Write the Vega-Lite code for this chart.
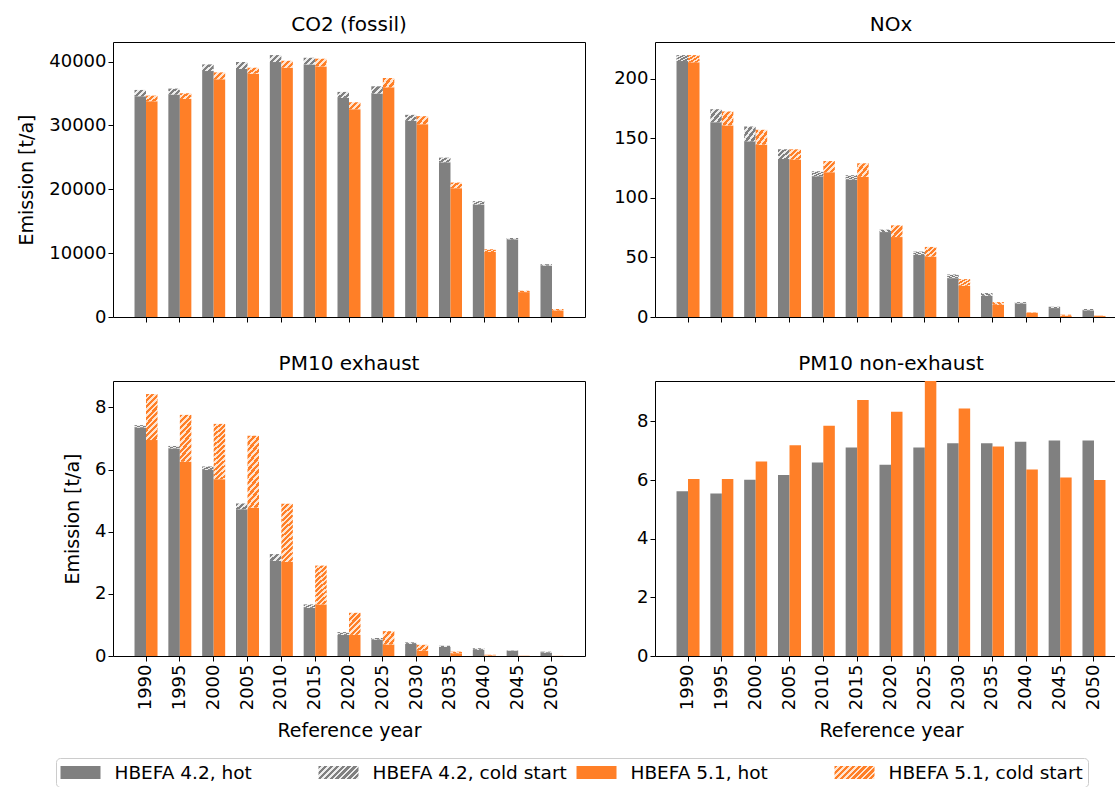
{
"$schema": "https://vega.github.io/schema/vega-lite/v6.json",
"padding": {"left": 16, "top": 14, "right": 0, "bottom": 0},
"config": {
  "font": "DejaVu Sans",
  "view": {"stroke": "#000000", "strokeWidth": 1},
  "axis": {"labelFontSize": 18, "titleFontSize": 19, "titleFontWeight": "normal", "labelColor": "#000000", "titleColor": "#000000", "tickColor": "#000000", "tickSize": 5, "grid": false, "domain": false, "labelFont": "DejaVu Sans", "titleFont": "DejaVu Sans"},
  "title": {"fontSize": 20, "fontWeight": "normal", "font": "DejaVu Sans", "offset": 7, "color": "#000000", "frame": "group"}
},
"datasets": {"d": [
{"p":"CO2","year":1990,"series":"HBEFA 4.2, hot","hot":34580,"total":35570},
{"p":"CO2","year":1995,"series":"HBEFA 4.2, hot","hot":34840,"total":35780},
{"p":"CO2","year":2000,"series":"HBEFA 4.2, hot","hot":38530,"total":39570},
{"p":"CO2","year":2005,"series":"HBEFA 4.2, hot","hot":38840,"total":39940},
{"p":"CO2","year":2010,"series":"HBEFA 4.2, hot","hot":39940,"total":41030},
{"p":"CO2","year":2015,"series":"HBEFA 4.2, hot","hot":39570,"total":40610},
{"p":"CO2","year":2020,"series":"HBEFA 4.2, hot","hot":34320,"total":35260},
{"p":"CO2","year":2025,"series":"HBEFA 4.2, hot","hot":35000,"total":36140},
{"p":"CO2","year":2030,"series":"HBEFA 4.2, hot","hot":30730,"total":31670},
{"p":"CO2","year":2035,"series":"HBEFA 4.2, hot","hot":24230,"total":24960},
{"p":"CO2","year":2040,"series":"HBEFA 4.2, hot","hot":17630,"total":18150},
{"p":"CO2","year":2045,"series":"HBEFA 4.2, hot","hot":12170,"total":12380},
{"p":"CO2","year":2050,"series":"HBEFA 4.2, hot","hot":8060,"total":8270},
{"p":"CO2","year":1990,"series":"HBEFA 5.1, hot","hot":33800,"total":34680},
{"p":"CO2","year":1995,"series":"HBEFA 5.1, hot","hot":34160,"total":35050},
{"p":"CO2","year":2000,"series":"HBEFA 5.1, hot","hot":37230,"total":38320},
{"p":"CO2","year":2005,"series":"HBEFA 5.1, hot","hot":38120,"total":39050},
{"p":"CO2","year":2010,"series":"HBEFA 5.1, hot","hot":39050,"total":40140},
{"p":"CO2","year":2015,"series":"HBEFA 5.1, hot","hot":39260,"total":40460},
{"p":"CO2","year":2020,"series":"HBEFA 5.1, hot","hot":32550,"total":33640},
{"p":"CO2","year":2025,"series":"HBEFA 5.1, hot","hot":35980,"total":37440},
{"p":"CO2","year":2030,"series":"HBEFA 5.1, hot","hot":30210,"total":31460},
{"p":"CO2","year":2035,"series":"HBEFA 5.1, hot","hot":20180,"total":21060},
{"p":"CO2","year":2040,"series":"HBEFA 5.1, hot","hot":10190,"total":10610},
{"p":"CO2","year":2045,"series":"HBEFA 5.1, hot","hot":3900,"total":4110},
{"p":"CO2","year":2050,"series":"HBEFA 5.1, hot","hot":1040,"total":1250},
{"p":"NOx","year":1990,"series":"HBEFA 4.2, hot","hot":214.8,"total":219.8},
{"p":"NOx","year":1995,"series":"HBEFA 4.2, hot","hot":163.5,"total":174.4},
{"p":"NOx","year":2000,"series":"HBEFA 4.2, hot","hot":147.4,"total":159.9},
{"p":"NOx","year":2005,"series":"HBEFA 4.2, hot","hot":132.6,"total":140.7},
{"p":"NOx","year":2010,"series":"HBEFA 4.2, hot","hot":118.1,"total":122.3},
{"p":"NOx","year":2015,"series":"HBEFA 4.2, hot","hot":115.3,"total":119.0},
{"p":"NOx","year":2020,"series":"HBEFA 4.2, hot","hot":71.3,"total":73.3},
{"p":"NOx","year":2025,"series":"HBEFA 4.2, hot","hot":52.1,"total":54.9},
{"p":"NOx","year":2030,"series":"HBEFA 4.2, hot","hot":32.6,"total":35.7},
{"p":"NOx","year":2035,"series":"HBEFA 4.2, hot","hot":17.8,"total":20.1},
{"p":"NOx","year":2040,"series":"HBEFA 4.2, hot","hot":11.4,"total":12.5},
{"p":"NOx","year":2045,"series":"HBEFA 4.2, hot","hot":7.5,"total":8.6},
{"p":"NOx","year":2050,"series":"HBEFA 4.2, hot","hot":5.6,"total":6.7},
{"p":"NOx","year":1990,"series":"HBEFA 5.1, hot","hot":213.7,"total":219.8},
{"p":"NOx","year":1995,"series":"HBEFA 5.1, hot","hot":160.8,"total":172.5},
{"p":"NOx","year":2000,"series":"HBEFA 5.1, hot","hot":144.6,"total":157.1},
{"p":"NOx","year":2005,"series":"HBEFA 5.1, hot","hot":132.1,"total":140.7},
{"p":"NOx","year":2010,"series":"HBEFA 5.1, hot","hot":121.5,"total":130.9},
{"p":"NOx","year":2015,"series":"HBEFA 5.1, hot","hot":117.6,"total":129.0},
{"p":"NOx","year":2020,"series":"HBEFA 5.1, hot","hot":67.1,"total":76.9},
{"p":"NOx","year":2025,"series":"HBEFA 5.1, hot","hot":50.7,"total":58.8},
{"p":"NOx","year":2030,"series":"HBEFA 5.1, hot","hot":26.2,"total":31.8},
{"p":"NOx","year":2035,"series":"HBEFA 5.1, hot","hot":10.3,"total":12.5},
{"p":"NOx","year":2040,"series":"HBEFA 5.1, hot","hot":3.6,"total":3.9},
{"p":"NOx","year":2045,"series":"HBEFA 5.1, hot","hot":1.1,"total":1.95},
{"p":"NOx","year":2050,"series":"HBEFA 5.1, hot","hot":0.8,"total":1.1},
{"p":"PMex","year":1990,"series":"HBEFA 4.2, hot","hot":7.35,"total":7.43},
{"p":"PMex","year":1995,"series":"HBEFA 4.2, hot","hot":6.68,"total":6.76},
{"p":"PMex","year":2000,"series":"HBEFA 4.2, hot","hot":5.99,"total":6.10},
{"p":"PMex","year":2005,"series":"HBEFA 4.2, hot","hot":4.72,"total":4.91},
{"p":"PMex","year":2010,"series":"HBEFA 4.2, hot","hot":3.06,"total":3.28},
{"p":"PMex","year":2015,"series":"HBEFA 4.2, hot","hot":1.55,"total":1.66},
{"p":"PMex","year":2020,"series":"HBEFA 4.2, hot","hot":0.68,"total":0.77},
{"p":"PMex","year":2025,"series":"HBEFA 4.2, hot","hot":0.53,"total":0.58},
{"p":"PMex","year":2030,"series":"HBEFA 4.2, hot","hot":0.39,"total":0.44},
{"p":"PMex","year":2035,"series":"HBEFA 4.2, hot","hot":0.29,"total":0.33},
{"p":"PMex","year":2040,"series":"HBEFA 4.2, hot","hot":0.20,"total":0.25},
{"p":"PMex","year":2045,"series":"HBEFA 4.2, hot","hot":0.17,"total":0.18},
{"p":"PMex","year":2050,"series":"HBEFA 4.2, hot","hot":0.11,"total":0.14},
{"p":"PMex","year":1990,"series":"HBEFA 5.1, hot","hot":6.95,"total":8.43},
{"p":"PMex","year":1995,"series":"HBEFA 5.1, hot","hot":6.25,"total":7.76},
{"p":"PMex","year":2000,"series":"HBEFA 5.1, hot","hot":5.69,"total":7.47},
{"p":"PMex","year":2005,"series":"HBEFA 5.1, hot","hot":4.77,"total":7.09},
{"p":"PMex","year":2010,"series":"HBEFA 5.1, hot","hot":3.03,"total":4.90},
{"p":"PMex","year":2015,"series":"HBEFA 5.1, hot","hot":1.66,"total":2.91},
{"p":"PMex","year":2020,"series":"HBEFA 5.1, hot","hot":0.68,"total":1.39},
{"p":"PMex","year":2025,"series":"HBEFA 5.1, hot","hot":0.37,"total":0.80},
{"p":"PMex","year":2030,"series":"HBEFA 5.1, hot","hot":0.17,"total":0.36},
{"p":"PMex","year":2035,"series":"HBEFA 5.1, hot","hot":0.09,"total":0.14},
{"p":"PMex","year":2040,"series":"HBEFA 5.1, hot","hot":0.02,"total":0.04},
{"p":"PMex","year":2045,"series":"HBEFA 5.1, hot","hot":0.005,"total":0.008},
{"p":"PMex","year":2050,"series":"HBEFA 5.1, hot","hot":0.003,"total":0.005},
{"p":"PMne","year":1990,"series":"HBEFA 4.2, hot","hot":5.62,"total":5.62},
{"p":"PMne","year":1995,"series":"HBEFA 4.2, hot","hot":5.54,"total":5.54},
{"p":"PMne","year":2000,"series":"HBEFA 4.2, hot","hot":6.01,"total":6.01},
{"p":"PMne","year":2005,"series":"HBEFA 4.2, hot","hot":6.17,"total":6.17},
{"p":"PMne","year":2010,"series":"HBEFA 4.2, hot","hot":6.60,"total":6.60},
{"p":"PMne","year":2015,"series":"HBEFA 4.2, hot","hot":7.11,"total":7.11},
{"p":"PMne","year":2020,"series":"HBEFA 4.2, hot","hot":6.52,"total":6.52},
{"p":"PMne","year":2025,"series":"HBEFA 4.2, hot","hot":7.11,"total":7.11},
{"p":"PMne","year":2030,"series":"HBEFA 4.2, hot","hot":7.26,"total":7.26},
{"p":"PMne","year":2035,"series":"HBEFA 4.2, hot","hot":7.26,"total":7.26},
{"p":"PMne","year":2040,"series":"HBEFA 4.2, hot","hot":7.31,"total":7.31},
{"p":"PMne","year":2045,"series":"HBEFA 4.2, hot","hot":7.35,"total":7.35},
{"p":"PMne","year":2050,"series":"HBEFA 4.2, hot","hot":7.35,"total":7.35},
{"p":"PMne","year":1990,"series":"HBEFA 5.1, hot","hot":6.04,"total":6.04},
{"p":"PMne","year":1995,"series":"HBEFA 5.1, hot","hot":6.04,"total":6.04},
{"p":"PMne","year":2000,"series":"HBEFA 5.1, hot","hot":6.63,"total":6.63},
{"p":"PMne","year":2005,"series":"HBEFA 5.1, hot","hot":7.19,"total":7.19},
{"p":"PMne","year":2010,"series":"HBEFA 5.1, hot","hot":7.85,"total":7.85},
{"p":"PMne","year":2015,"series":"HBEFA 5.1, hot","hot":8.73,"total":8.73},
{"p":"PMne","year":2020,"series":"HBEFA 5.1, hot","hot":8.33,"total":8.33},
{"p":"PMne","year":2025,"series":"HBEFA 5.1, hot","hot":9.6,"total":9.6},
{"p":"PMne","year":2030,"series":"HBEFA 5.1, hot","hot":8.44,"total":8.44},
{"p":"PMne","year":2035,"series":"HBEFA 5.1, hot","hot":7.15,"total":7.15},
{"p":"PMne","year":2040,"series":"HBEFA 5.1, hot","hot":6.36,"total":6.36},
{"p":"PMne","year":2045,"series":"HBEFA 5.1, hot","hot":6.09,"total":6.09},
{"p":"PMne","year":2050,"series":"HBEFA 5.1, hot","hot":6.00,"total":6.00}
]},
"columns": 1,
"spacing": 15,
"concat": [
{
"spacing": 0,
"hconcat": [
{
  "width": 1, "height": 1,
  "view": {"stroke": null},
  "data": {"values": [{"label": ""}]},
  "mark": {"type": "text"},
  "encoding": {"text": {"field": "label"}}
},
{
"data": {"name": "d"},
"columns": 2,
"spacing": {"row": 26, "column": 27},
"concat": [
{
  "width": 472, "height": 275,
  "title": {"text": "CO2 (fossil)"},
  "transform": [{"filter": "datum.p == 'CO2'"}],
  "encoding": {
    "x": {"field": "year", "type": "ordinal", "scale": {"paddingInner": 0.32, "paddingOuter": 0.636}, "axis": {"labels": false, "title": null}},
    "xOffset": {"field": "series", "type": "nominal", "scale": {"paddingInner": 0, "paddingOuter": 0}}
  },
  "layer": [
    {"mark": {"type": "bar"}, "encoding": {
      "y": {"field": "hot", "type": "quantitative", "stack": null, "scale": {"domain": [0, 43080], "nice": false}, "axis": {"values": [0, 10000, 20000, 30000, 40000], "format": "d", "title": "Emission [t/a]", "titlePadding": 12}},
      "fill": {"field": "series", "type": "nominal", "scale": {"domain": ["HBEFA 4.2, hot", "HBEFA 5.1, hot"], "range": ["#808080", "#ff7f27"]}, "legend": null}
    }},
    {"mark": {"type": "bar"}, "encoding": {
      "y": {"field": "total", "type": "quantitative", "axis": {"values": [0, 10000, 20000, 30000, 40000], "format": "d", "title": "Emission [t/a]", "titlePadding": 12}},
      "y2": {"field": "hot"},
      "fill": {"condition": {"test": "datum.series == 'HBEFA 4.2, hot'", "value": {"gradient": "linear", "x1": 0, "y1": 0, "x2": 1.17, "y2": 0.715, "stops": [
        {"offset": 0, "color": "#808080"}, {"offset": 0.18333, "color": "#808080"}, {"offset": 0.18333, "color": "#ececec"}, {"offset": 0.33333, "color": "#ececec"},
        {"offset": 0.33333, "color": "#808080"}, {"offset": 0.51667, "color": "#808080"}, {"offset": 0.51667, "color": "#ececec"}, {"offset": 0.66667, "color": "#ececec"},
        {"offset": 0.66667, "color": "#808080"}, {"offset": 0.85, "color": "#808080"}, {"offset": 0.85, "color": "#ececec"}, {"offset": 1, "color": "#ececec"}]}},
        "value": {"gradient": "linear", "x1": 0, "y1": 0, "x2": 1.17, "y2": 0.715, "stops": [
        {"offset": 0, "color": "#ff7f27"}, {"offset": 0.18333, "color": "#ff7f27"}, {"offset": 0.18333, "color": "#ffe4d0"}, {"offset": 0.33333, "color": "#ffe4d0"},
        {"offset": 0.33333, "color": "#ff7f27"}, {"offset": 0.51667, "color": "#ff7f27"}, {"offset": 0.51667, "color": "#ffe4d0"}, {"offset": 0.66667, "color": "#ffe4d0"},
        {"offset": 0.66667, "color": "#ff7f27"}, {"offset": 0.85, "color": "#ff7f27"}, {"offset": 0.85, "color": "#ffe4d0"}, {"offset": 1, "color": "#ffe4d0"}]}}
    }}
  ]
},
{
  "width": 472, "height": 275,
  "title": {"text": "NOx"},
  "transform": [{"filter": "datum.p == 'NOx'"}],
  "encoding": {
    "x": {"field": "year", "type": "ordinal", "scale": {"paddingInner": 0.32, "paddingOuter": 0.636}, "axis": {"labels": false, "title": null}},
    "xOffset": {"field": "series", "type": "nominal", "scale": {"paddingInner": 0, "paddingOuter": 0}}
  },
  "layer": [
    {"mark": {"type": "bar"}, "encoding": {
      "y": {"field": "hot", "type": "quantitative", "stack": null, "scale": {"domain": [0, 230.8], "nice": false}, "axis": {"values": [0, 50, 100, 150, 200], "title": null}},
      "fill": {"field": "series", "type": "nominal", "scale": {"domain": ["HBEFA 4.2, hot", "HBEFA 5.1, hot"], "range": ["#808080", "#ff7f27"]}, "legend": null}
    }},
    {"mark": {"type": "bar"}, "encoding": {
      "y": {"field": "total", "type": "quantitative", "axis": {"values": [0, 50, 100, 150, 200], "title": null}},
      "y2": {"field": "hot"},
      "fill": {"condition": {"test": "datum.series == 'HBEFA 4.2, hot'", "value": {"gradient": "linear", "x1": 0, "y1": 0, "x2": 1, "y2": 1, "stops": [
        {"offset": 0, "color": "#808080"}, {"offset": 0.1375, "color": "#808080"}, {"offset": 0.1375, "color": "#ececec"}, {"offset": 0.25, "color": "#ececec"},
        {"offset": 0.25, "color": "#808080"}, {"offset": 0.3875, "color": "#808080"}, {"offset": 0.3875, "color": "#ececec"}, {"offset": 0.5, "color": "#ececec"},
        {"offset": 0.5, "color": "#808080"}, {"offset": 0.6375, "color": "#808080"}, {"offset": 0.6375, "color": "#ececec"}, {"offset": 0.75, "color": "#ececec"},
        {"offset": 0.75, "color": "#808080"}, {"offset": 0.8875, "color": "#808080"}, {"offset": 0.8875, "color": "#ececec"}, {"offset": 1, "color": "#ececec"}]}},
        "value": {"gradient": "linear", "x1": 0, "y1": 0, "x2": 1, "y2": 1, "stops": [
        {"offset": 0, "color": "#ff7f27"}, {"offset": 0.1375, "color": "#ff7f27"}, {"offset": 0.1375, "color": "#ffe4d0"}, {"offset": 0.25, "color": "#ffe4d0"},
        {"offset": 0.25, "color": "#ff7f27"}, {"offset": 0.3875, "color": "#ff7f27"}, {"offset": 0.3875, "color": "#ffe4d0"}, {"offset": 0.5, "color": "#ffe4d0"},
        {"offset": 0.5, "color": "#ff7f27"}, {"offset": 0.6375, "color": "#ff7f27"}, {"offset": 0.6375, "color": "#ffe4d0"}, {"offset": 0.75, "color": "#ffe4d0"},
        {"offset": 0.75, "color": "#ff7f27"}, {"offset": 0.8875, "color": "#ff7f27"}, {"offset": 0.8875, "color": "#ffe4d0"}, {"offset": 1, "color": "#ffe4d0"}]}}
    }}
  ]
},
{
  "width": 472, "height": 275,
  "title": {"text": "PM10 exhaust"},
  "transform": [{"filter": "datum.p == 'PMex'"}],
  "encoding": {
    "x": {"field": "year", "type": "ordinal", "scale": {"paddingInner": 0.32, "paddingOuter": 0.636}, "axis": {"labelAngle": -90, "title": "Reference year", "labelPadding": 3, "titlePadding": 12}},
    "xOffset": {"field": "series", "type": "nominal", "scale": {"paddingInner": 0, "paddingOuter": 0}}
  },
  "layer": [
    {"mark": {"type": "bar"}, "encoding": {
      "y": {"field": "hot", "type": "quantitative", "stack": null, "scale": {"domain": [0, 8.85], "nice": false}, "axis": {"values": [0, 2, 4, 6, 8], "title": "Emission [t/a]", "titlePadding": 12}},
      "fill": {"field": "series", "type": "nominal", "scale": {"domain": ["HBEFA 4.2, hot", "HBEFA 5.1, hot"], "range": ["#808080", "#ff7f27"]}, "legend": null}
    }},
    {"mark": {"type": "bar"}, "encoding": {
      "y": {"field": "total", "type": "quantitative", "axis": {"values": [0, 2, 4, 6, 8], "title": "Emission [t/a]", "titlePadding": 12}},
      "y2": {"field": "hot"},
      "fill": {"condition": [
        {"test": "datum.series == 'HBEFA 4.2, hot'", "value": {"gradient": "linear", "x1": 0, "y1": 0, "x2": 1.17, "y2": 0.715, "stops": [
          {"offset": 0, "color": "#808080"}, {"offset": 0.18333, "color": "#808080"}, {"offset": 0.18333, "color": "#ececec"}, {"offset": 0.33333, "color": "#ececec"},
          {"offset": 0.33333, "color": "#808080"}, {"offset": 0.51667, "color": "#808080"}, {"offset": 0.51667, "color": "#ececec"}, {"offset": 0.66667, "color": "#ececec"},
          {"offset": 0.66667, "color": "#808080"}, {"offset": 0.85, "color": "#808080"}, {"offset": 0.85, "color": "#ececec"}, {"offset": 1, "color": "#ececec"}]}},
        {"test": "datum.total - datum.hot >= 1.6", "value": {"gradient": "linear", "x1": 0, "y1": 0, "x2": 0.212, "y2": 1.146, "stops": [
          {"offset": 0, "color": "#ff7f27"}, {"offset": 0.042308, "color": "#ff7f27"}, {"offset": 0.042308, "color": "#ffe4d0"}, {"offset": 0.076923, "color": "#ffe4d0"},
          {"offset": 0.076923, "color": "#ff7f27"}, {"offset": 0.119231, "color": "#ff7f27"}, {"offset": 0.119231, "color": "#ffe4d0"}, {"offset": 0.153846, "color": "#ffe4d0"},
          {"offset": 0.153846, "color": "#ff7f27"}, {"offset": 0.196154, "color": "#ff7f27"}, {"offset": 0.196154, "color": "#ffe4d0"}, {"offset": 0.230769, "color": "#ffe4d0"},
          {"offset": 0.230769, "color": "#ff7f27"}, {"offset": 0.273077, "color": "#ff7f27"}, {"offset": 0.273077, "color": "#ffe4d0"}, {"offset": 0.307692, "color": "#ffe4d0"},
          {"offset": 0.307692, "color": "#ff7f27"}, {"offset": 0.35, "color": "#ff7f27"}, {"offset": 0.35, "color": "#ffe4d0"}, {"offset": 0.384615, "color": "#ffe4d0"},
          {"offset": 0.384615, "color": "#ff7f27"}, {"offset": 0.426923, "color": "#ff7f27"}, {"offset": 0.426923, "color": "#ffe4d0"}, {"offset": 0.461538, "color": "#ffe4d0"},
          {"offset": 0.461538, "color": "#ff7f27"}, {"offset": 0.503846, "color": "#ff7f27"}, {"offset": 0.503846, "color": "#ffe4d0"}, {"offset": 0.538462, "color": "#ffe4d0"},
          {"offset": 0.538462, "color": "#ff7f27"}, {"offset": 0.580769, "color": "#ff7f27"}, {"offset": 0.580769, "color": "#ffe4d0"}, {"offset": 0.615385, "color": "#ffe4d0"},
          {"offset": 0.615385, "color": "#ff7f27"}, {"offset": 0.657692, "color": "#ff7f27"}, {"offset": 0.657692, "color": "#ffe4d0"}, {"offset": 0.692308, "color": "#ffe4d0"},
          {"offset": 0.692308, "color": "#ff7f27"}, {"offset": 0.734615, "color": "#ff7f27"}, {"offset": 0.734615, "color": "#ffe4d0"}, {"offset": 0.769231, "color": "#ffe4d0"},
          {"offset": 0.769231, "color": "#ff7f27"}, {"offset": 0.811538, "color": "#ff7f27"}, {"offset": 0.811538, "color": "#ffe4d0"}, {"offset": 0.846154, "color": "#ffe4d0"},
          {"offset": 0.846154, "color": "#ff7f27"}, {"offset": 0.888462, "color": "#ff7f27"}, {"offset": 0.888462, "color": "#ffe4d0"}, {"offset": 0.923077, "color": "#ffe4d0"},
          {"offset": 0.923077, "color": "#ff7f27"}, {"offset": 0.965385, "color": "#ff7f27"}, {"offset": 0.965385, "color": "#ffe4d0"}, {"offset": 1, "color": "#ffe4d0"}]}},
        {"test": "datum.total - datum.hot >= 1.0", "value": {"gradient": "linear", "x1": 0, "y1": 0, "x2": 0.308, "y2": 1.181, "stops": [
          {"offset": 0, "color": "#ff7f27"}, {"offset": 0.055, "color": "#ff7f27"}, {"offset": 0.055, "color": "#ffe4d0"}, {"offset": 0.1, "color": "#ffe4d0"},
          {"offset": 0.1, "color": "#ff7f27"}, {"offset": 0.155, "color": "#ff7f27"}, {"offset": 0.155, "color": "#ffe4d0"}, {"offset": 0.2, "color": "#ffe4d0"},
          {"offset": 0.2, "color": "#ff7f27"}, {"offset": 0.255, "color": "#ff7f27"}, {"offset": 0.255, "color": "#ffe4d0"}, {"offset": 0.3, "color": "#ffe4d0"},
          {"offset": 0.3, "color": "#ff7f27"}, {"offset": 0.355, "color": "#ff7f27"}, {"offset": 0.355, "color": "#ffe4d0"}, {"offset": 0.4, "color": "#ffe4d0"},
          {"offset": 0.4, "color": "#ff7f27"}, {"offset": 0.455, "color": "#ff7f27"}, {"offset": 0.455, "color": "#ffe4d0"}, {"offset": 0.5, "color": "#ffe4d0"},
          {"offset": 0.5, "color": "#ff7f27"}, {"offset": 0.555, "color": "#ff7f27"}, {"offset": 0.555, "color": "#ffe4d0"}, {"offset": 0.6, "color": "#ffe4d0"},
          {"offset": 0.6, "color": "#ff7f27"}, {"offset": 0.655, "color": "#ff7f27"}, {"offset": 0.655, "color": "#ffe4d0"}, {"offset": 0.7, "color": "#ffe4d0"},
          {"offset": 0.7, "color": "#ff7f27"}, {"offset": 0.755, "color": "#ff7f27"}, {"offset": 0.755, "color": "#ffe4d0"}, {"offset": 0.8, "color": "#ffe4d0"},
          {"offset": 0.8, "color": "#ff7f27"}, {"offset": 0.855, "color": "#ff7f27"}, {"offset": 0.855, "color": "#ffe4d0"}, {"offset": 0.9, "color": "#ffe4d0"},
          {"offset": 0.9, "color": "#ff7f27"}, {"offset": 0.955, "color": "#ff7f27"}, {"offset": 0.955, "color": "#ffe4d0"}, {"offset": 1, "color": "#ffe4d0"}]}},
        {"test": "datum.total - datum.hot >= 0.5", "value": {"gradient": "linear", "x1": 0, "y1": 0, "x2": 0.626, "y2": 1.196, "stops": [
          {"offset": 0, "color": "#ff7f27"}, {"offset": 0.091667, "color": "#ff7f27"}, {"offset": 0.091667, "color": "#ffe4d0"}, {"offset": 0.166667, "color": "#ffe4d0"},
          {"offset": 0.166667, "color": "#ff7f27"}, {"offset": 0.258333, "color": "#ff7f27"}, {"offset": 0.258333, "color": "#ffe4d0"}, {"offset": 0.333333, "color": "#ffe4d0"},
          {"offset": 0.333333, "color": "#ff7f27"}, {"offset": 0.425, "color": "#ff7f27"}, {"offset": 0.425, "color": "#ffe4d0"}, {"offset": 0.5, "color": "#ffe4d0"},
          {"offset": 0.5, "color": "#ff7f27"}, {"offset": 0.591667, "color": "#ff7f27"}, {"offset": 0.591667, "color": "#ffe4d0"}, {"offset": 0.666667, "color": "#ffe4d0"},
          {"offset": 0.666667, "color": "#ff7f27"}, {"offset": 0.758333, "color": "#ff7f27"}, {"offset": 0.758333, "color": "#ffe4d0"}, {"offset": 0.833333, "color": "#ffe4d0"},
          {"offset": 0.833333, "color": "#ff7f27"}, {"offset": 0.925, "color": "#ff7f27"}, {"offset": 0.925, "color": "#ffe4d0"}, {"offset": 1, "color": "#ffe4d0"}]}},
        {"test": "datum.total - datum.hot >= 0.3", "value": {"gradient": "linear", "x1": 0, "y1": 0, "x2": 1, "y2": 1, "stops": [
          {"offset": 0, "color": "#ff7f27"}, {"offset": 0.1375, "color": "#ff7f27"}, {"offset": 0.1375, "color": "#ffe4d0"}, {"offset": 0.25, "color": "#ffe4d0"},
          {"offset": 0.25, "color": "#ff7f27"}, {"offset": 0.3875, "color": "#ff7f27"}, {"offset": 0.3875, "color": "#ffe4d0"}, {"offset": 0.5, "color": "#ffe4d0"},
          {"offset": 0.5, "color": "#ff7f27"}, {"offset": 0.6375, "color": "#ff7f27"}, {"offset": 0.6375, "color": "#ffe4d0"}, {"offset": 0.75, "color": "#ffe4d0"},
          {"offset": 0.75, "color": "#ff7f27"}, {"offset": 0.8875, "color": "#ff7f27"}, {"offset": 0.8875, "color": "#ffe4d0"}, {"offset": 1, "color": "#ffe4d0"}]}}
        ],
        "value": {"gradient": "linear", "x1": 0, "y1": 0, "x2": 1.17, "y2": 0.715, "stops": [
        {"offset": 0, "color": "#ff7f27"}, {"offset": 0.18333, "color": "#ff7f27"}, {"offset": 0.18333, "color": "#ffe4d0"}, {"offset": 0.33333, "color": "#ffe4d0"},
        {"offset": 0.33333, "color": "#ff7f27"}, {"offset": 0.51667, "color": "#ff7f27"}, {"offset": 0.51667, "color": "#ffe4d0"}, {"offset": 0.66667, "color": "#ffe4d0"},
        {"offset": 0.66667, "color": "#ff7f27"}, {"offset": 0.85, "color": "#ff7f27"}, {"offset": 0.85, "color": "#ffe4d0"}, {"offset": 1, "color": "#ffe4d0"}]}}
    }}
  ]
},
{
  "width": 472, "height": 275,
  "title": {"text": "PM10 non-exhaust"},
  "transform": [{"filter": "datum.p == 'PMne'"}],
  "mark": {"type": "bar", "clip": true},
  "encoding": {
    "x": {"field": "year", "type": "ordinal", "scale": {"paddingInner": 0.32, "paddingOuter": 0.636}, "axis": {"labelAngle": -90, "title": "Reference year", "labelPadding": 3, "titlePadding": 12}},
    "xOffset": {"field": "series", "type": "nominal", "scale": {"paddingInner": 0, "paddingOuter": 0}},
    "y": {"field": "hot", "type": "quantitative", "stack": null, "scale": {"domain": [0, 9.38], "nice": false}, "axis": {"values": [0, 2, 4, 6, 8], "title": null}},
    "fill": {"field": "series", "type": "nominal", "scale": {"domain": ["HBEFA 4.2, hot", "HBEFA 5.1, hot"], "range": ["#808080", "#ff7f27"]}, "legend": null}
  }
}
]
}
]
},
{
"spacing": 14,
"hconcat": [
{
  "width": 25, "height": 29,
  "view": {"stroke": null},
  "data": {"values": [{"label": ""}]},
  "mark": {"type": "text"},
  "encoding": {"text": {"field": "label"}}
},
{
  "width": 1032, "height": 29,
  "view": {"stroke": "#cccccc", "strokeWidth": 1, "cornerRadius": 4},
  "data": {"values": [{"label": "HBEFA 4.2, hot"}, {"label": "HBEFA 4.2, cold start"}, {"label": "HBEFA 5.1, hot"}, {"label": "HBEFA 5.1, cold start"}]},
  "layer": [
    {"mark": {"type": "point", "shape": "M-1,-0.325H1V0.325H-1Z", "size": 1600, "filled": true, "opacity": 1, "strokeWidth": 0},
     "encoding": {
       "x": {"field": "label", "type": "nominal", "sort": ["HBEFA 4.2, hot", "HBEFA 4.2, cold start", "HBEFA 5.1, hot", "HBEFA 5.1, cold start"], "scale": {"type": "band", "paddingInner": 0, "paddingOuter": 0}, "bandPosition": 0.095, "axis": null},
       "fill": {"condition": [
       {"test": "datum.label == 'HBEFA 4.2, cold start'", "value": {"gradient": "linear", "x1": 0, "y1": 0, "x2": 1.2, "y2": 0.39, "stops": [
              {"offset": 0, "color": "#808080"}, {"offset": 0.061111, "color": "#808080"}, {"offset": 0.061111, "color": "#ececec"}, {"offset": 0.111111, "color": "#ececec"},
              {"offset": 0.111111, "color": "#808080"}, {"offset": 0.172222, "color": "#808080"}, {"offset": 0.172222, "color": "#ececec"}, {"offset": 0.222222, "color": "#ececec"},
              {"offset": 0.222222, "color": "#808080"}, {"offset": 0.283333, "color": "#808080"}, {"offset": 0.283333, "color": "#ececec"}, {"offset": 0.333333, "color": "#ececec"},
              {"offset": 0.333333, "color": "#808080"}, {"offset": 0.394444, "color": "#808080"}, {"offset": 0.394444, "color": "#ececec"}, {"offset": 0.444444, "color": "#ececec"},
              {"offset": 0.444444, "color": "#808080"}, {"offset": 0.505556, "color": "#808080"}, {"offset": 0.505556, "color": "#ececec"}, {"offset": 0.555556, "color": "#ececec"},
              {"offset": 0.555556, "color": "#808080"}, {"offset": 0.616667, "color": "#808080"}, {"offset": 0.616667, "color": "#ececec"}, {"offset": 0.666667, "color": "#ececec"},
              {"offset": 0.666667, "color": "#808080"}, {"offset": 0.727778, "color": "#808080"}, {"offset": 0.727778, "color": "#ececec"}, {"offset": 0.777778, "color": "#ececec"},
              {"offset": 0.777778, "color": "#808080"}, {"offset": 0.838889, "color": "#808080"}, {"offset": 0.838889, "color": "#ececec"}, {"offset": 0.888889, "color": "#ececec"},
              {"offset": 0.888889, "color": "#808080"}, {"offset": 0.95, "color": "#808080"}, {"offset": 0.95, "color": "#ececec"}, {"offset": 1, "color": "#ececec"}]}},
       {"test": "datum.label == 'HBEFA 5.1, cold start'", "value": {"gradient": "linear", "x1": 0, "y1": 0, "x2": 1.2, "y2": 0.39, "stops": [
              {"offset": 0, "color": "#ff7f27"}, {"offset": 0.061111, "color": "#ff7f27"}, {"offset": 0.061111, "color": "#ffe4d0"}, {"offset": 0.111111, "color": "#ffe4d0"},
              {"offset": 0.111111, "color": "#ff7f27"}, {"offset": 0.172222, "color": "#ff7f27"}, {"offset": 0.172222, "color": "#ffe4d0"}, {"offset": 0.222222, "color": "#ffe4d0"},
              {"offset": 0.222222, "color": "#ff7f27"}, {"offset": 0.283333, "color": "#ff7f27"}, {"offset": 0.283333, "color": "#ffe4d0"}, {"offset": 0.333333, "color": "#ffe4d0"},
              {"offset": 0.333333, "color": "#ff7f27"}, {"offset": 0.394444, "color": "#ff7f27"}, {"offset": 0.394444, "color": "#ffe4d0"}, {"offset": 0.444444, "color": "#ffe4d0"},
              {"offset": 0.444444, "color": "#ff7f27"}, {"offset": 0.505556, "color": "#ff7f27"}, {"offset": 0.505556, "color": "#ffe4d0"}, {"offset": 0.555556, "color": "#ffe4d0"},
              {"offset": 0.555556, "color": "#ff7f27"}, {"offset": 0.616667, "color": "#ff7f27"}, {"offset": 0.616667, "color": "#ffe4d0"}, {"offset": 0.666667, "color": "#ffe4d0"},
              {"offset": 0.666667, "color": "#ff7f27"}, {"offset": 0.727778, "color": "#ff7f27"}, {"offset": 0.727778, "color": "#ffe4d0"}, {"offset": 0.777778, "color": "#ffe4d0"},
              {"offset": 0.777778, "color": "#ff7f27"}, {"offset": 0.838889, "color": "#ff7f27"}, {"offset": 0.838889, "color": "#ffe4d0"}, {"offset": 0.888889, "color": "#ffe4d0"},
              {"offset": 0.888889, "color": "#ff7f27"}, {"offset": 0.95, "color": "#ff7f27"}, {"offset": 0.95, "color": "#ffe4d0"}, {"offset": 1, "color": "#ffe4d0"}]}},
       {"test": "datum.label == 'HBEFA 5.1, hot'", "value": "#ff7f27"}
     ], "value": "#808080"}}},
    {"mark": {"type": "text", "align": "left", "baseline": "middle", "dx": 34, "fontSize": 18.5, "font": "DejaVu Sans", "color": "#000000"},
     "encoding": {
       "x": {"field": "label", "type": "nominal", "sort": ["HBEFA 4.2, hot", "HBEFA 4.2, cold start", "HBEFA 5.1, hot", "HBEFA 5.1, cold start"], "scale": {"type": "band", "paddingInner": 0, "paddingOuter": 0}, "bandPosition": 0.095, "axis": null},
       "text": {"field": "label"}}}
  ]
}
]
}
]
}
